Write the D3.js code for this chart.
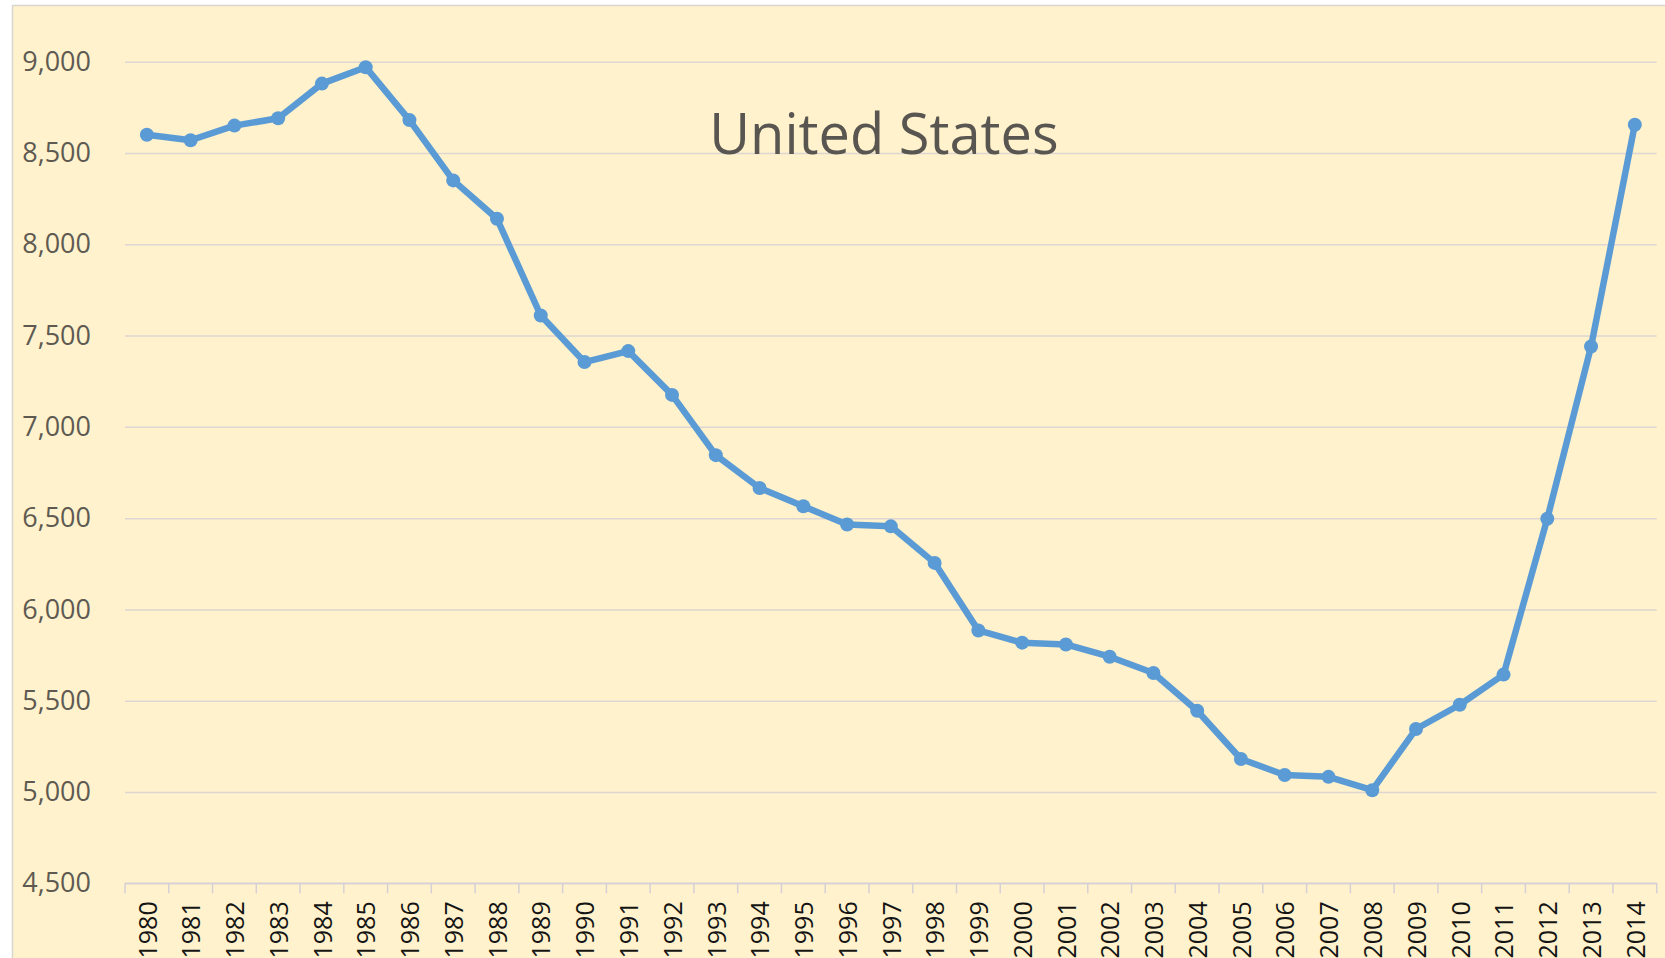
<!DOCTYPE html>
<html>
<head>
<meta charset="utf-8">
<script src="https://cdn.jsdelivr.net/npm/d3@7"></script>
<style>
  html, body { margin: 0; padding: 0; background: #fff; }
  svg { display: block; }
</style>
</head>
<body>
<div id="chart"></div>
<script>
// Data
const years = [
  1980, 1981, 1982, 1983, 1984, 1985, 1986, 1987, 1988, 1989,
  1990, 1991, 1992, 1993, 1994, 1995, 1996, 1997, 1998, 1999,
  2000, 2001, 2002, 2003, 2004, 2005, 2006, 2007, 2008, 2009,
  2010, 2011, 2012, 2013, 2014
];
const production = [
  8600, 8570, 8650, 8690, 8880, 8970, 8680, 8350, 8140, 7610,
  7355, 7415, 7175, 6845, 6665, 6565, 6465, 6455, 6255, 5885,
  5818, 5808, 5741, 5652, 5445, 5181, 5093, 5083, 5010, 5345,
  5478, 5643, 6497, 7440, 8655
];
const yTicks = [4500, 5000, 5500, 6000, 6500, 7000, 7500, 8000, 8500, 9000];
const title = "United States";

const width = 1665, height = 958;
const margins = { top: 61.7, right: 8.3, bottom: 74.7, left: 125 };
const innerWidth = width - margins.left - margins.right;
const innerHeight = height - margins.top - margins.bottom;

const svg = d3.select("#chart").append("svg")
  .attr("width", width)
  .attr("height", height);

// chart area
svg.append("rect")
  .attr("x", 12.5).attr("y", 5.5)
  .attr("width", width).attr("height", height)
  .attr("fill", "#fff2cc")
  .attr("stroke", "#d9d6cf").attr("stroke-width", 1.5);

const mainG = svg.append("g")
  .attr("transform", `translate(${margins.left},${margins.top})`);

const xScale = d3.scaleBand().domain(years).range([0, innerWidth]);
const yScale = d3.scaleLinear().domain([4500, 9000]).range([innerHeight, 0]);

// Y axis + gridlines
const yAxisG = mainG.append("g")
  .call(d3.axisLeft(yScale).tickValues(yTicks)
    .tickSize(-innerWidth).tickPadding(34).tickFormat(d3.format(",")));
yAxisG.select(".domain").remove();
yAxisG.selectAll(".tick line").attr("stroke", "#ddd6d2").attr("stroke-width", 1.5);
yAxisG.selectAll(".tick text")
  .attr("font-family", "'Open Sans', sans-serif")
  .attr("font-size", "27px")
  .attr("fill", "#5e5a52");

// X axis: line, ticks at category boundaries, rotated labels
const xAxisG = mainG.append("g")
  .attr("transform", `translate(0,${innerHeight})`);
xAxisG.append("line")
  .attr("x1", 0).attr("x2", innerWidth)
  .attr("stroke", "#d6d0d6").attr("stroke-width", 1.5);
const boundaries = years.map((d) => xScale(d)).concat([innerWidth]);
xAxisG.selectAll("line.tk").data(boundaries).join("line")
  .attr("class", "tk")
  .attr("x1", (d) => d).attr("x2", (d) => d)
  .attr("y1", 0).attr("y2", 10)
  .attr("stroke", "#d6d0d6").attr("stroke-width", 1.5);
xAxisG.selectAll("text.lbl").data(years).join("text")
  .attr("class", "lbl")
  .attr("transform", (d) => `translate(${xScale(d) + xScale.bandwidth() / 2 + 1},18) rotate(-90)`)
  .attr("text-anchor", "end")
  .attr("dy", "0.35em")
  .attr("font-family", "'Open Sans', sans-serif")
  .attr("font-size", "25px")
  .attr("fill", "#141414")
  .text((d) => d);

// Line
const line = d3.line()
  .x((d, i) => xScale(years[i]) + xScale.bandwidth() / 2)
  .y((d) => yScale(d));

mainG.append("path")
  .datum(production)
  .attr("fill", "none")
  .attr("stroke", "#5b9bd5")
  .attr("stroke-width", 6.5)
  .attr("stroke-linejoin", "round")
  .attr("d", line);

mainG.selectAll("circle.pt").data(production).join("circle")
  .attr("class", "pt")
  .attr("cx", (d, i) => xScale(years[i]) + xScale.bandwidth() / 2)
  .attr("cy", (d) => yScale(d))
  .attr("r", 7)
  .attr("fill", "#5b9bd5");

// Title
svg.append("text")
  .attr("x", 884)
  .attr("y", 154)
  .attr("text-anchor", "middle")
  .attr("font-family", "'Open Sans', sans-serif")
  .attr("font-size", "56px")
  .attr("fill", "#595652")
  .text(title);
</script>
</body>
</html>
